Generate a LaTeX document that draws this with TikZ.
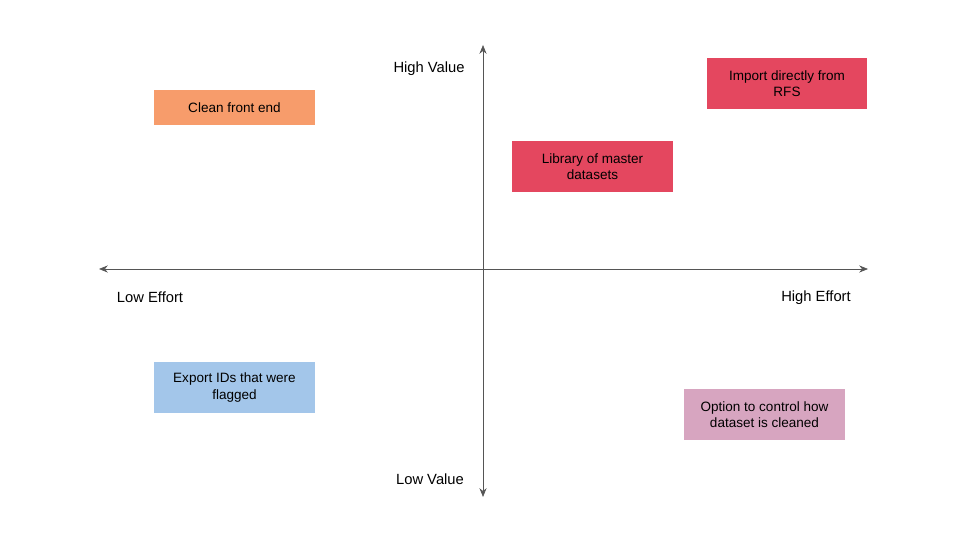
\documentclass[tikz,border=0pt]{standalone}
\usepackage{fontspec}
\setmainfont{Liberation Sans}
\usetikzlibrary{arrows.meta}
\definecolor{orangebox}{HTML}{F79C6B}
\definecolor{redbox}{HTML}{E4475F}
\definecolor{bluebox}{HTML}{A3C6EA}
\definecolor{pinkbox}{HTML}{D7A5C0}
\definecolor{axisgray}{HTML}{555555}
\begin{document}
\begin{tikzpicture}[x=0.02cm, y=-0.02cm]
			\tikzset{idee/.style={rectangle, text centered, align=center, minimum width=3.22cm, minimum height=1.02cm, inner sep=0pt, font=\fontsize{7.7}{9.2}\selectfont},
			etiq/.style={font=\fontsize{8.4}{9.7}\selectfont, inner sep=0pt}};
			\useasboundingbox (0,0) rectangle (960,540);

			\coordinate (O) at (483,269);
			\coordinate (W) at (99,269);
			\coordinate (E) at (868,269);
			\coordinate (N) at (483,45);
			\coordinate (S) at (483,497);
			\draw[axisgray, {Stealth[length=5pt, width=4pt]}-{Stealth[length=5pt, width=4pt]}] (W) -- (E);
			\draw[axisgray, {Stealth[length=5pt, width=4pt]}-{Stealth[length=5pt, width=4pt]}] (S) -- (N);

			\node[etiq, anchor=east] (hv) at (465,68.5) {High Value};
			\node[etiq] (lv) at (430,479) {Low Value};
			\node[etiq] (le) at (150,297) {Low Effort};
			\node[etiq] (he) at (816,298) {High Effort};

			\node[idee, fill=orangebox, minimum height=0.7cm] (front) at (234.5,107.5) {Clean front end};
			\node[idee, fill=redbox] (library) at (592.5,166.5) {Library of master\\datasets};
			\node[idee, fill=redbox] (rfs) at (787,83.5) {Import directly from\\RFS};
			\node[idee, fill=bluebox] (export) at (234.5,387.5) {Export IDs that were\\flagged};
			\node[idee, fill=pinkbox] (clean) at (764.5,414.5) {Option to control how\\dataset is cleaned};
		\end{tikzpicture}
\end{document}
